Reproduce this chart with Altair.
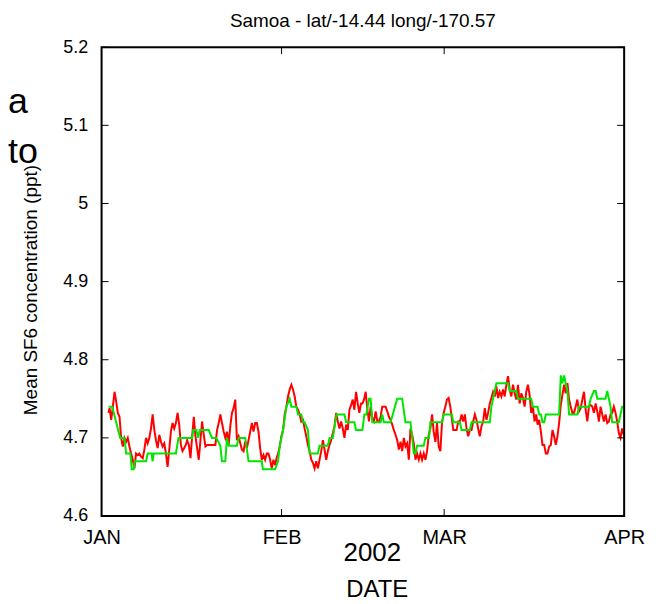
import altair as alt
import pandas as pd

# ---- data (day offsets from 2002-01-01, ppt) ----
red_days = [1.20,1.37,1.66,1.94,2.23,2.51,2.80,3.09,3.37,3.66,3.94,4.23,4.51,4.80,5.09,5.37,5.66,5.94,6.23,6.51,
            6.80,7.09,7.37,7.66,7.94,8.23,8.51,8.80,9.09,9.37,9.66,9.94,10.23,10.51,10.80,11.09,11.37,11.66,11.94,12.23,
            12.51,12.80,13.09,13.37,13.66,13.94,14.23,14.51,14.74,15.03,15.31,15.60,15.89,16.17,16.46,16.74,17.03,17.31,17.60,17.89,
            18.17,18.46,18.74,19.03,19.31,19.60,19.89,20.17,20.46,20.74,21.03,21.31,21.60,21.89,22.17,22.46,22.74,23.03,23.31,23.60,
            23.89,24.17,24.46,24.74,25.03,25.31,25.60,25.89,26.17,26.46,26.74,27.03,27.31,27.60,27.89,28.17,28.46,28.74,29.03,29.31,
            29.60,29.89,30.17,30.40,30.69,30.97,31.26,31.54,31.83,32.11,32.40,32.69,32.97,33.26,33.54,33.83,34.12,34.40,34.69,34.97,
            35.26,35.54,35.83,36.12,36.40,36.69,36.97,37.26,37.54,37.83,38.12,38.40,38.69,38.97,39.26,39.54,39.83,40.12,40.40,40.69,
            40.97,41.26,41.54,41.83,42.12,42.40,42.69,42.97,43.26,43.54,43.83,44.12,44.40,44.69,44.92,45.20,45.49,45.77,46.06,46.34,
            46.63,46.92,47.20,47.49,47.77,48.06,48.34,48.63,48.92,49.20,49.49,49.77,50.06,50.34,50.63,50.92,51.20,51.49,51.77,52.06,
            52.34,52.63,52.92,53.20,53.49,53.77,54.06,54.34,54.63,54.92,55.20,55.49,55.77,56.06,56.35,56.63,56.92,57.20,57.49,57.77,
            58.06,58.35,58.63,58.92,59.20,59.49,59.77,60.06,60.29,60.57,60.86,61.14,61.43,61.72,62.00,62.29,62.57,62.86,63.14,63.43,
            63.72,64.00,64.29,64.57,64.86,65.14,65.43,65.72,66.00,66.29,66.57,66.86,67.14,67.43,67.72,68.00,68.29,68.57,68.86,69.14,
            69.43,69.72,70.00,70.29,70.57,70.86,71.14,71.43,71.72,72.00,72.29,72.57,72.86,73.14,73.43,73.72,74.00,74.29,74.57,74.86,
            75.09,75.37,75.66,75.94,76.23,76.51,76.80,77.09,77.37,77.66,77.94,78.23,78.52,78.80,79.09,79.37,79.66,79.94,80.23,80.52,
            80.80,81.09,81.37,81.66,81.94,82.23,82.52,82.80,83.09,83.37,83.66,83.94,84.23,84.52,84.80,85.09,85.37,85.66,85.94,86.23,
            86.52,86.80,87.09,87.37,87.66,87.94,88.23,88.52,88.80,89.09,89.37,89.66,89.94]
red_vals = [4.732,4.738,4.723,4.740,4.759,4.747,4.732,4.727,4.700,4.689,4.700,4.695,4.700,4.689,4.680,4.672,4.661,4.680,4.678,4.680,
            4.676,4.674,4.685,4.700,4.693,4.700,4.712,4.730,4.710,4.697,4.687,4.704,4.695,4.689,4.693,4.680,4.663,4.685,4.708,4.719,
            4.712,4.719,4.732,4.717,4.691,4.683,4.687,4.691,4.697,4.691,4.674,4.702,4.727,4.702,4.687,4.672,4.697,4.721,4.704,4.689,
            4.691,4.691,4.691,4.691,4.691,4.691,4.710,4.719,4.730,4.719,4.708,4.700,4.708,4.691,4.715,4.732,4.738,4.749,4.697,4.702,
            4.693,4.685,4.683,4.695,4.687,4.697,4.708,4.719,4.708,4.719,4.719,4.708,4.687,4.672,4.678,4.672,4.680,4.680,4.672,4.661,
            4.672,4.665,4.675,4.680,4.689,4.702,4.710,4.730,4.740,4.753,4.762,4.768,4.762,4.753,4.740,4.736,4.730,4.721,4.723,4.712,
            4.702,4.691,4.683,4.672,4.668,4.661,4.670,4.661,4.672,4.683,4.697,4.685,4.672,4.683,4.691,4.697,4.706,4.715,4.732,4.721,
            4.712,4.721,4.712,4.700,4.717,4.710,4.736,4.742,4.749,4.736,4.759,4.744,4.732,4.744,4.744,4.749,4.759,4.736,4.721,4.740,
            4.725,4.721,4.734,4.721,4.721,4.727,4.740,4.740,4.740,4.734,4.727,4.723,4.717,4.710,4.704,4.697,4.685,4.695,4.683,4.700,
            4.689,4.693,4.672,4.712,4.704,4.693,4.672,4.680,4.672,4.680,4.672,4.680,4.672,4.683,4.704,4.712,4.730,4.708,4.695,4.719,
            4.689,4.683,4.719,4.732,4.740,4.749,4.751,4.740,4.727,4.710,4.710,4.710,4.721,4.721,4.730,4.721,4.730,4.712,4.702,4.710,
            4.710,4.721,4.730,4.723,4.712,4.702,4.715,4.721,4.738,4.723,4.732,4.744,4.751,4.759,4.753,4.766,4.751,4.759,4.753,4.762,
            4.753,4.768,4.779,4.762,4.753,4.768,4.757,4.749,4.768,4.744,4.757,4.751,4.740,4.759,4.768,4.755,4.732,4.740,4.721,4.730,
            4.717,4.723,4.708,4.691,4.691,4.680,4.680,4.689,4.691,4.710,4.702,4.691,4.702,4.719,4.742,4.755,4.768,4.757,4.770,4.749,
            4.740,4.732,4.732,4.740,4.749,4.734,4.738,4.749,4.759,4.736,4.721,4.740,4.742,4.740,4.732,4.744,4.734,4.721,4.740,4.730,
            4.721,4.730,4.719,4.721,4.730,4.732,4.740,4.732,4.721,4.706,4.700,4.712,4.704]

green_days = [1.20,1.83,3.21,3.94,4.23,4.97,5.19,5.54,5.71,7.66,7.94,8.62,8.79,8.97,12.81,13.25,15.60,15.77,16.34,16.63,
              16.92,18.46,19.03,19.77,20.45,20.74,21.31,21.60,21.89,23.31,23.61,24.74,25.32,27.60,27.77,29.88,30.40,30.69,31.26,31.83,
              32.40,32.69,33.55,33.83,34.41,34.69,34.97,35.54,35.83,37.26,37.54,38.97,39.26,39.83,40.46,41.83,42.12,43.54,43.83,44.92,
              45.26,45.60,46.06,46.34,46.63,48.06,48.34,48.63,49.77,50.92,51.77,52.34,53.20,53.49,53.77,54.06,54.34,55.49,55.77,56.40,
              56.63,58.63,58.92,60.34,60.57,61.72,62.00,63.43,63.72,66.86,67.14,67.43,68.00,70.00,70.29,71.43,71.72,74.00,74.29,75.09,
              75.37,75.66,75.94,76.23,76.51,78.80,79.09,79.37,79.66,79.94,80.23,80.52,81.94,82.23,83.94,84.23,84.80,85.09,85.37,86.80,
              87.09,87.66,87.94,89.09,89.37,89.66,89.94]
green_vals = [4.74,4.74,4.70,4.70,4.68,4.68,4.66,4.66,4.67,4.67,4.68,4.68,4.67,4.68,4.68,4.70,4.70,4.71,4.71,4.70,
              4.71,4.71,4.70,4.70,4.69,4.67,4.67,4.70,4.69,4.69,4.70,4.70,4.67,4.67,4.66,4.66,4.67,4.69,4.71,4.74,
              4.75,4.74,4.74,4.73,4.73,4.72,4.72,4.71,4.68,4.68,4.69,4.69,4.70,4.70,4.73,4.73,4.72,4.72,4.71,4.71,
              4.73,4.73,4.75,4.75,4.72,4.72,4.73,4.72,4.72,4.75,4.75,4.72,4.72,4.70,4.68,4.68,4.69,4.69,4.70,4.70,
              4.72,4.72,4.73,4.73,4.72,4.72,4.71,4.71,4.72,4.72,4.74,4.75,4.77,4.77,4.76,4.76,4.75,4.75,4.74,4.74,
              4.73,4.73,4.72,4.72,4.73,4.73,4.78,4.77,4.78,4.77,4.76,4.73,4.73,4.74,4.74,4.75,4.76,4.76,4.75,4.75,
              4.76,4.74,4.72,4.72,4.73,4.74,4.74]

y_ticks = [4.6, 4.7, 4.8, 4.9, 5.0, 5.1, 5.2]
inner_x_ticks = ["2002-02-01", "2002-03-01"]

title_text = "Samoa - lat/-14.44 long/-170.57"
y_title = "Mean SF6 concentration (ppt)"
x_title_year = "2002"
x_title_name = "DATE"
stray_texts = ["a", "to"]

# ---- frames ----
start = pd.Timestamp("2002-01-01")
red_df = pd.DataFrame({"date": start + pd.to_timedelta(red_days, unit="D"), "value": red_vals})
green_df = pd.DataFrame({"date": start + pd.to_timedelta(green_days, unit="D"), "value": green_vals})
ytick_df = pd.DataFrame({"value": y_ticks})
xtick_df = pd.DataFrame({"date": pd.to_datetime(inner_x_ticks)})

W, H = 525, 471
FONT = "Liberation Sans"

x_scale = alt.Scale(domain=[alt.DateTime(year=2002, month=1, date=1),
                            alt.DateTime(year=2002, month=4, date=1)], nice=False)
y_scale = alt.Scale(domain=[4.6, 5.2], nice=False, zero=False)

x_enc = alt.X("date:T", scale=x_scale, title=None,
              axis=alt.Axis(values=[alt.DateTime(year=2002, month=m, date=1) for m in (1, 2, 3, 4)],
                            labelExpr="upper(timeFormat(datum.value, '%b'))",
                            labelFontSize=20, labelPadding=12, labelFont=FONT, labelColor="black",
                            ticks=False, tickSize=0, domain=False, grid=False,
                            labelFlush=False, labelOverlap=False))
y_enc = alt.Y("value:Q", scale=y_scale, title=None,
              axis=alt.Axis(values=y_ticks, format="~g", labelFontSize=18, labelPadding=14,
                            labelFont=FONT, labelColor="black", ticks=False, tickSize=0,
                            domain=False, grid=False))

red_line = alt.Chart(red_df).mark_line(color="#ff0000", strokeWidth=2).encode(x=x_enc, y=y_enc)
green_line = alt.Chart(green_df).mark_line(color="#00e600", strokeWidth=2).encode(x="date:T", y="value:Q")

tick_left = alt.Chart(ytick_df).mark_rule(color="black", strokeWidth=1).encode(
    y="value:Q", x=alt.value(0), x2=alt.value(7))
tick_right = alt.Chart(ytick_df).mark_rule(color="black", strokeWidth=1).encode(
    y="value:Q", x=alt.value(W - 7), x2=alt.value(W))
tick_bottom = alt.Chart(xtick_df).mark_rule(color="black", strokeWidth=1).encode(
    x="date:T", y=alt.value(H - 7), y2=alt.value(H))
tick_top = alt.Chart(xtick_df).mark_rule(color="black", strokeWidth=1).encode(
    x="date:T", y=alt.value(0), y2=alt.value(7))

# plot frame (four sides)
frame = alt.Chart(pd.DataFrame({"k": [0]})).mark_rect(
    fill=None, stroke="black", strokeWidth=2).encode(
    x=alt.value(0), x2=alt.value(W), y=alt.value(0), y2=alt.value(H))


def label(text, x, y, size, angle=0, align="center", baseline="middle"):
    kw = dict(font=FONT, fontSize=size, color="black", align=align, baseline=baseline)
    if angle:
        kw["angle"] = angle
    return alt.Chart(pd.DataFrame({"t": [text]})).mark_text(**kw).encode(
        text="t:N", x=alt.value(x), y=alt.value(y))


texts = [
    label(title_text, W / 2, -20.5, 19, baseline="alphabetic"),
    label(y_title, -71, 244, 19, angle=270),
    label(x_title_year, 272, 508, 26),
    label(x_title_name, 277, 552, 24, baseline="alphabetic"),
    label(stray_texts[0], -94, 66, 36, align="left", baseline="alphabetic"),
    label(stray_texts[1], -94, 116, 36, align="left", baseline="alphabetic"),
]

chart = alt.layer(red_line, green_line, tick_left, tick_right, tick_bottom, tick_top, frame, *texts).properties(
    width=W, height=H,
    autosize=alt.AutoSizeParams(type="none"),
    padding={"left": 94, "top": 38, "right": 30, "bottom": 86},
).configure_view(stroke=None).configure(background="white")

chart.save("out.html", embed_options={"renderer": "svg", "actions": False})
